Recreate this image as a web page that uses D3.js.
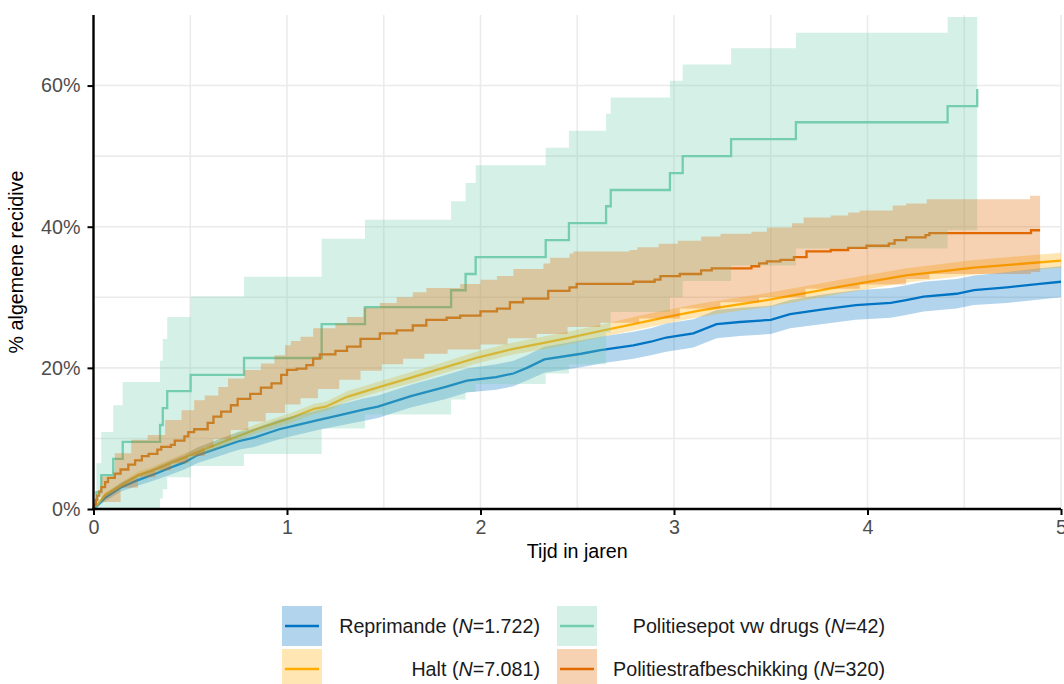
<!DOCTYPE html>
<html>
<head>
<meta charset="utf-8">
<script src="https://cdn.jsdelivr.net/npm/d3@7"></script>
<style>
  body { margin: 0; background: #fff; }
  svg { display: block; }
  text { font-family: "Liberation Sans", Arial, sans-serif; }
</style>
</head>
<body>
<svg id="chart" width="1064" height="684"></svg>
<script>
// ---- Cumulative recidivism (%) per group, with 95% confidence band ----

// Reprimande (N=1.722)
const repTime  = [0, 0.02, 0.06, 0.145, 0.23, 0.32, 0.40, 0.47, 0.535, 0.64, 0.75, 0.83, 0.96, 1.05, 1.16, 1.29, 1.40, 1.47, 1.64, 1.82, 1.93, 2.08, 2.17, 2.24, 2.33, 2.52, 2.62, 2.79, 2.88, 2.96, 3.10, 3.22, 3.34, 3.50, 3.60, 3.77, 3.94, 4.12, 4.20, 4.29, 4.46, 4.55, 4.72, 4.89, 5.0];
const repPct   = [0, 0.5, 1.6, 3.1, 4.1, 5.0, 5.9, 6.6, 7.6, 8.6, 9.6, 10.1, 11.3, 11.9, 12.6, 13.4, 14.1, 14.5, 16.0, 17.3, 18.2, 18.7, 19.2, 20.0, 21.2, 22.0, 22.5, 23.2, 23.7, 24.3, 24.9, 26.2, 26.5, 26.8, 27.6, 28.3, 28.9, 29.2, 29.6, 30.1, 30.5, 31.0, 31.4, 31.9, 32.2];
const repLow   = [0, 0.3, 1.1, 2.5, 3.3, 4.1, 4.9, 5.6, 6.5, 7.4, 8.4, 8.8, 9.9, 10.5, 11.2, 11.9, 12.5, 12.9, 14.4, 15.6, 16.5, 16.9, 17.4, 18.2, 19.3, 20.1, 20.6, 21.3, 21.8, 22.3, 22.9, 24.2, 24.5, 24.8, 25.6, 26.2, 26.8, 27.1, 27.5, 28.0, 28.4, 28.9, 29.2, 29.7, 30.0];
const repHigh  = [0, 0.7, 2.1, 3.8, 4.9, 5.9, 6.9, 7.7, 8.7, 9.8, 10.9, 11.4, 12.7, 13.3, 14.0, 14.9, 15.7, 16.1, 17.6, 19.0, 19.9, 20.5, 21.0, 21.8, 23.0, 23.9, 24.4, 25.1, 25.6, 26.3, 26.9, 28.2, 28.5, 28.8, 29.6, 30.4, 31.0, 31.3, 31.7, 32.2, 32.6, 33.1, 33.6, 34.1, 34.4];

// Halt (N=7.081)
const haltTime = [0, 0.02, 0.06, 0.23, 0.30, 0.47, 0.65, 0.84, 1.02, 1.14, 1.20, 1.31, 1.48, 1.65, 1.82, 1.99, 2.17, 2.34, 2.45, 2.65, 2.79, 2.96, 3.13, 3.31, 3.48, 3.86, 4.20, 4.55, 5.0];
const haltPct  = [0, 0.6, 2.0, 4.8, 5.4, 7.3, 9.3, 11.3, 12.9, 14.2, 14.5, 15.9, 17.3, 18.7, 20.1, 21.5, 22.7, 23.6, 24.2, 25.4, 26.2, 27.2, 28.1, 28.9, 29.6, 31.5, 33.1, 34.2, 35.2];
const haltLow  = [0, 0.5, 1.7, 4.4, 4.9, 6.8, 8.7, 10.7, 12.2, 13.5, 13.8, 15.2, 16.6, 17.9, 19.3, 20.7, 21.9, 22.7, 23.3, 24.5, 25.3, 26.3, 27.2, 28.0, 28.6, 30.5, 32.1, 33.2, 34.2];
const haltHigh = [0, 0.8, 2.3, 5.3, 5.9, 7.9, 9.9, 12.0, 13.6, 14.9, 15.2, 16.7, 18.1, 19.5, 20.9, 22.4, 23.6, 24.5, 25.1, 26.3, 27.2, 28.2, 29.1, 29.9, 30.6, 32.5, 34.1, 35.3, 36.3];

// Politiesepot vw drugs (N=42)
const drugTime = [0, 0.015, 0.040, 0.102, 0.151, 0.344, 0.358, 0.381, 0.502, 0.778, 1.179, 1.403, 1.848, 1.923, 1.975, 2.337, 2.457, 2.649, 2.673, 2.979, 3.045, 3.295, 3.630, 4.414, 4.567];
const drugPct  = [0, 2.4, 4.8, 7.1, 9.5, 11.9, 14.3, 16.7, 19.0, 21.4, 26.2, 28.6, 31.0, 33.3, 35.7, 38.1, 40.5, 42.9, 45.2, 47.6, 50.0, 52.4, 54.8, 57.1, 59.5];
const drugLow  = [0, 0, 0, 0, 0, 1.5, 2.8, 4.5, 6.1, 7.8, 11.4, 13.4, 15.5, 16.6, 17.7, 19.2, 20.5, 25.0, 27.9, 30.0, 32.3, 34.5, 36.9, 39.5, 39.5];
const drugHigh = [0, 6.5, 10.9, 14.7, 18.0, 21.0, 24.1, 27.2, 30.1, 32.9, 38.3, 41.0, 43.6, 46.2, 48.7, 51.2, 53.6, 56.0, 58.3, 60.7, 63.0, 65.3, 67.5, 69.7, 69.7];

// Politiestrafbeschikking (N=320)
const pstbTime = [0, 0.005, 0.012, 0.02, 0.03, 0.04, 0.06, 0.075, 0.11, 0.14, 0.18, 0.215, 0.25, 0.285, 0.33, 0.35, 0.40, 0.42, 0.47, 0.49, 0.52, 0.59, 0.62, 0.66, 0.71, 0.745, 0.81, 0.865, 0.92, 0.97, 1.0, 1.05, 1.10, 1.135, 1.17, 1.25, 1.31, 1.38, 1.48, 1.567, 1.65, 1.72, 1.825, 1.895, 2.0, 2.085, 2.152, 2.22, 2.35, 2.46, 2.497, 2.79, 2.90, 2.93, 3.03, 3.14, 3.195, 3.40, 3.44, 3.48, 3.55, 3.62, 3.685, 3.81, 3.90, 3.995, 4.11, 4.14, 4.20, 4.30, 4.32, 4.845, 4.892];
const pstbPct  = [0, 0.6, 1.3, 1.9, 2.5, 3.1, 3.8, 4.4, 5.0, 5.6, 6.3, 6.9, 7.5, 7.8, 8.4, 8.8, 9.1, 9.7, 10.3, 10.9, 11.3, 12.2, 13.1, 13.8, 14.7, 15.6, 16.3, 17.2, 17.8, 19.0, 19.7, 19.9, 20.4, 21.3, 21.9, 22.4, 23.0, 24.1, 24.9, 25.3, 26.0, 26.8, 27.1, 27.4, 28.0, 28.4, 29.3, 29.8, 30.9, 31.4, 31.9, 32.2, 32.5, 33.0, 33.3, 33.8, 34.1, 34.4, 34.8, 35.1, 35.3, 35.7, 36.5, 36.7, 37.0, 37.3, 37.6, 38.1, 38.5, 38.8, 39.1, 39.5, 39.5];
const pstbLowTime  = [0, 0.04, 0.14, 0.23, 0.32, 0.40, 0.49, 0.575, 0.62, 0.71, 0.80, 0.89, 0.99, 1.07, 1.16, 1.27, 1.38, 1.49, 1.60, 1.71, 1.83, 2.00, 2.14, 2.29, 2.45, 2.62, 2.82, 3.03, 3.24, 3.44, 3.68, 3.96, 4.20, 4.32, 4.845, 4.892];
const pstbLow      = [0, 1.0, 3.0, 4.5, 5.5, 6.5, 7.5, 8.7, 9.9, 11.2, 12.4, 13.6, 14.8, 15.7, 17.0, 18.3, 19.6, 20.5, 21.3, 22.0, 22.6, 23.3, 24.2, 24.8, 25.8, 26.4, 27.0, 28.4, 29.3, 30.0, 31.2, 31.8, 32.6, 33.3, 33.6, 33.6];
const pstbHighTime = [0, 0.04, 0.11, 0.195, 0.28, 0.37, 0.455, 0.52, 0.575, 0.645, 0.695, 0.78, 0.865, 0.935, 0.99, 1.02, 1.07, 1.135, 1.25, 1.31, 1.395, 1.48, 1.567, 1.65, 1.72, 1.895, 2.0, 2.085, 2.17, 2.325, 2.36, 2.46, 2.48, 2.77, 2.81, 2.92, 3.02, 3.14, 3.24, 3.40, 3.48, 3.61, 3.67, 3.81, 3.90, 3.96, 4.13, 4.20, 4.306, 4.84, 4.892];
const pstbHigh     = [0, 4.6, 7.9, 9.8, 10.5, 12.6, 14.0, 15.4, 16.1, 17.3, 18.5, 19.7, 20.6, 21.8, 23.2, 23.8, 24.4, 25.6, 26.3, 27.2, 28.5, 29.2, 30.0, 30.7, 31.3, 31.9, 32.5, 33.0, 34.0, 34.8, 35.6, 36.2, 36.5, 36.7, 37.1, 37.6, 38.0, 38.6, 39.0, 39.3, 39.9, 40.5, 41.3, 41.6, 42.0, 42.3, 43.0, 43.3, 43.9, 44.4, 44.4];

// Axis ticks and legend labels
const xTicks = [0, 1, 2, 3, 4, 5];
const xMinor = [0.5, 1.5, 2.5, 3.5, 4.5];
const yTicks = [0, 20, 40, 60];
const yMinor = [10, 30, 50];
const groupNames = ["Reprimande", "Halt", "Politiesepot vw drugs", "Politiestrafbeschikking"];
const groupN     = ["1.722", "7.081", "42", "320"];
const groupColor = ["#0074C4", "#FFAC00", "#74CDB0", "#E16A00"];

// ---- layout ----
const svg = d3.select("#chart");
const panel = { left: 93.5, right: 1061, top: 15, bottom: 509 };
const x = d3.scaleLinear().domain([0, 5]).range([panel.left, panel.right]);
const y = d3.scaleLinear().domain([0, 70]).range([panel.bottom, panel.top]);

svg.append("defs").append("clipPath").attr("id", "panelClip")
  .append("rect").attr("x", panel.left).attr("y", panel.top)
  .attr("width", panel.right - panel.left).attr("height", panel.bottom - panel.top);

// grid
const grid = svg.append("g");
grid.selectAll(".gx").data(xMinor.concat(xTicks.slice(1))).join("line")
  .attr("x1", d => x(d)).attr("x2", d => x(d)).attr("y1", panel.top).attr("y2", panel.bottom)
  .attr("stroke", "#EBEBEB").attr("stroke-width", 1.6);
grid.selectAll(".gy").data(yMinor.concat(yTicks.slice(1))).join("line")
  .attr("x1", panel.left).attr("x2", panel.right).attr("y1", d => y(d)).attr("y2", d => y(d))
  .attr("stroke", "#EBEBEB").attr("stroke-width", 1.6);

const plot = svg.append("g").attr("clip-path", "url(#panelClip)");

const zip = (ts, vs) => ts.map((t, i) => [t, vs[i]]);
const stepLine = d3.line().x(d => x(d[0])).y(d => y(d[1])).curve(d3.curveStepAfter);
const smoothLine = d3.line().x(d => x(d[0])).y(d => y(d[1]));

// band whose lower and upper edges step at their own times
function stepBand(hiT, hi, loT, lo) {
  const upper = stepLine(zip(hiT, hi));
  const lowerRev = d3.line().x(d => x(d[0])).y(d => y(d[1])).curve(d3.curveStepBefore)(zip(loT, lo).reverse());
  return upper + lowerRev.replace(/^M/, "L") + "Z";
}
const smoothBand = (ts, lo, hi) => d3.area()
  .x((d, i) => x(ts[i])).y0((d, i) => y(lo[i])).y1((d, i) => y(hi[i]))(ts);

// curves first, confidence bands on top
const lw = 2.3;
plot.append("path").attr("d", smoothLine(zip(repTime, repPct))).attr("fill", "none").attr("stroke", groupColor[0]).attr("stroke-width", lw);
plot.append("path").attr("d", smoothLine(zip(haltTime, haltPct))).attr("fill", "none").attr("stroke", groupColor[1]).attr("stroke-width", lw);
plot.append("path").attr("d", stepLine(zip(drugTime, drugPct))).attr("fill", "none").attr("stroke", groupColor[2]).attr("stroke-width", lw);
plot.append("path").attr("d", stepLine(zip(pstbTime, pstbPct))).attr("fill", "none").attr("stroke", groupColor[3]).attr("stroke-width", lw);

const bandOpacity = 0.3;
plot.append("path").attr("d", smoothBand(repTime, repLow, repHigh)).attr("fill", groupColor[0]).attr("fill-opacity", bandOpacity);
plot.append("path").attr("d", smoothBand(haltTime, haltLow, haltHigh)).attr("fill", groupColor[1]).attr("fill-opacity", bandOpacity);
plot.append("path").attr("d", stepBand(drugTime, drugHigh, drugTime, drugLow)).attr("fill", groupColor[2]).attr("fill-opacity", bandOpacity);
plot.append("path").attr("d", stepBand(pstbHighTime, pstbHigh, pstbLowTime, pstbLow)).attr("fill", groupColor[3]).attr("fill-opacity", bandOpacity);

// axes
const fs = 19.7;
const xAxis = svg.append("g").attr("transform", `translate(0,${panel.bottom})`)
  .call(d3.axisBottom(x).tickValues(xTicks).tickFormat(d3.format("d")).tickSize(6).tickPadding(5));
const yAxis = svg.append("g").attr("transform", `translate(${panel.left},0)`)
  .call(d3.axisLeft(y).tickValues(yTicks).tickFormat(d => d + "%").tickSize(6).tickPadding(7));
[xAxis, yAxis].forEach(a => {
  a.select(".domain").attr("stroke", "#000").attr("stroke-width", 2.4);
  a.selectAll(".tick line").attr("stroke", "#000").attr("stroke-width", 2);
  a.selectAll(".tick text").attr("fill", "#4D4D4D").attr("font-size", fs)
    .attr("font-family", '"Liberation Sans", Arial, sans-serif');
});
yAxis.select(".domain").attr("d", `M0,${panel.top}V${panel.bottom}`);
xAxis.select(".domain").attr("d", `M${panel.left - 1.2},0H${panel.right}`);

svg.append("text").attr("x", (panel.left + panel.right) / 2).attr("y", 558)
  .attr("text-anchor", "middle").attr("font-size", fs).attr("fill", "#000").text("Tijd in jaren");
svg.append("text").attr("transform", `translate(23,${(panel.top + panel.bottom) / 2}) rotate(-90)`)
  .attr("text-anchor", "middle").attr("font-size", fs).attr("fill", "#000").text("% algemene recidive");

// legend: two rows, two columns, labels right-aligned against the next key
const legendSlots = [
  { g: 0, kx: 282, ky: 606, tx: 540 },
  { g: 2, kx: 557, ky: 606, tx: 885 },
  { g: 1, kx: 282, ky: 649, tx: 540 },
  { g: 3, kx: 557, ky: 649, tx: 885 }
];
const keySize = 40;
const legend = svg.append("g");
legendSlots.forEach(s => {
  const c = groupColor[s.g];
  legend.append("rect").attr("x", s.kx).attr("y", s.ky).attr("width", keySize).attr("height", keySize)
    .attr("fill", c).attr("fill-opacity", bandOpacity);
  legend.append("line").attr("x1", s.kx + 3).attr("x2", s.kx + keySize - 3)
    .attr("y1", s.ky + keySize / 2).attr("y2", s.ky + keySize / 2)
    .attr("stroke", c).attr("stroke-width", lw);
  const t = legend.append("text").attr("x", s.tx).attr("y", s.ky + keySize / 2 + 7)
    .attr("text-anchor", "end").attr("font-size", fs).attr("fill", "#1A1A1A");
  t.append("tspan").text(groupNames[s.g] + " (");
  t.append("tspan").attr("font-style", "italic").text("N");
  t.append("tspan").text("=" + groupN[s.g] + ")");
});
</script>
</body>
</html>
